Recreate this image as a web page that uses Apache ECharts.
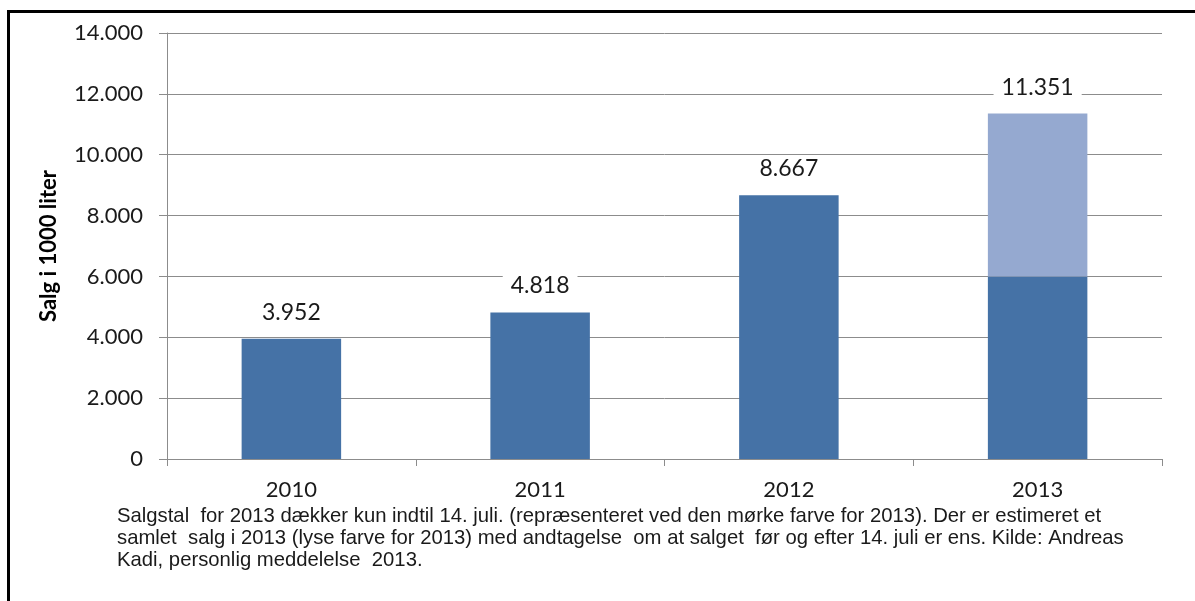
<!DOCTYPE html>
<html>
<head>
<meta charset="utf-8">
<style>
  html, body { margin: 0; padding: 0; background: #fff; }
  #chart { width: 1195px; height: 601px; }
</style>
<script src="https://cdn.jsdelivr.net/npm/echarts@6/dist/echarts.min.js"></script>
</head>
<body>
<div id="chart"></div>
<script>
// Salg i 1000 liter per år
const years = ['2010', '2011', '2012', '2013'];
// Registreret salg (for 2013 kun til og med 14. juli)
const soldRecorded = [3952, 4818, 8667, 6000];
// Estimeret resterende salg for 2013
const soldEstimated = [0, 0, 0, 5351];
// Samlet salg pr. år, vist som etiket over søjlen
const totals = [3952, 4818, 8667, 11351];
const yTicks = { min: 0, max: 14000, step: 2000 };

const captionLines = [
  'Salgstal  for 2013 dækker kun indtil 14. juli. (repræsenteret ved den mørke farve for 2013). Der er estimeret et',
  'samlet  salg i 2013 (lyse farve for 2013) med andtagelse  om at salget  før og efter 14. juli er ens. Kilde: Andreas',
  'Kadi, personlig meddelelse  2013.'
];

function fmt(v) {
  return String(Math.round(v)).replace(/\B(?=(\d{3})+(?!\d))/g, '.');
}

const gridColor = '#8c8c8c';
const labelFont = 'Lato, "Open Sans", sans-serif';

const totalLabel = {
  show: true,
  position: 'top',
  distance: 14,
  fontFamily: labelFont,
  fontSize: 23,
  color: '#1a1a1a',
  backgroundColor: '#fff',
  padding: [1, 8],
  formatter: p => fmt(totals[p.dataIndex])
};

// The top segment of each stack carries the total label
const recordedData = soldRecorded.map((v, i) =>
  soldEstimated[i] > 0 ? { value: v, label: { show: false } } : v
);
const estimatedData = soldEstimated.map(v => (v > 0 ? v : null));

const chart = echarts.init(document.getElementById('chart'), null, { renderer: 'canvas' });

chart.setOption({
  animation: false,
  backgroundColor: '#fff',
  grid: { left: 167, right: 33, top: 33, bottom: 142 },
  xAxis: {
    type: 'category',
    data: years,
    boundaryGap: true,
    axisLine: { show: true, lineStyle: { color: gridColor, width: 1 } },
    axisTick: { show: true, length: 7, alignWithLabel: false, lineStyle: { color: gridColor } },
    axisLabel: { margin: 20, fontFamily: labelFont, fontSize: 22, color: '#1a1a1a' }
  },
  yAxis: {
    type: 'value',
    min: yTicks.min,
    max: yTicks.max,
    interval: yTicks.step,
    name: 'Salg i 1000 liter',
    nameLocation: 'middle',
    nameGap: 107,
    nameRotate: 90,
    nameTextStyle: { fontFamily: labelFont, fontSize: 22, fontWeight: 'bold', color: '#000' },
    axisLine: { show: true, lineStyle: { color: gridColor, width: 1 } },
    axisTick: { show: true, length: 8, lineStyle: { color: gridColor } },
    splitLine: { show: true, lineStyle: { color: gridColor, width: 1 } },
    axisLabel: {
      margin: 24,
      fontFamily: labelFont,
      fontSize: 22,
      color: '#1a1a1a',
      formatter: v => fmt(v)
    }
  },
  series: [
    {
      name: 'Registreret salg',
      type: 'bar',
      stack: 'salg',
      barWidth: '40%',
      data: recordedData,
      itemStyle: { color: '#4572a6' },
      label: totalLabel,
      z: 3
    },
    {
      name: 'Estimeret salg',
      type: 'bar',
      stack: 'salg',
      barWidth: '40%',
      data: estimatedData,
      itemStyle: { color: '#95a9d0' },
      label: totalLabel,
      z: 3
    }
  ],
  graphic: [
    {
      type: 'rect',
      shape: { x: 8.5, y: 11.5, width: 1200, height: 620 },
      style: { fill: 'none', stroke: '#000', lineWidth: 3 },
      silent: true
    },
    ...captionLines.map((line, i) => ({
      type: 'text',
      left: 117,
      top: 506 + i * 22,
      style: {
        text: line,
        fontFamily: '"Liberation Sans", Arial, sans-serif',
        fontSize: 20.3,
        fill: '#1a1a1a'
      }
    }))
  ]
});
</script>
</body>
</html>
